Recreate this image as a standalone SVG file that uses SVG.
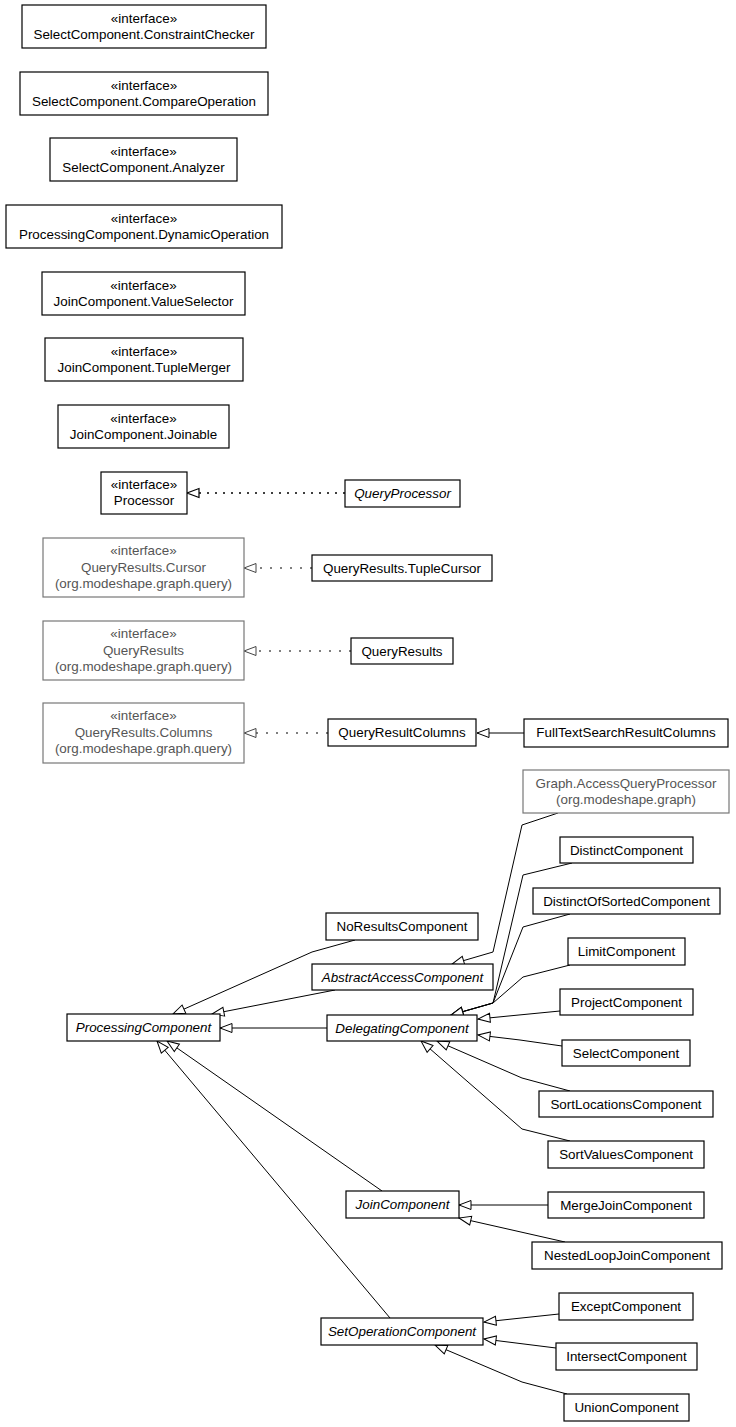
<svg xmlns="http://www.w3.org/2000/svg" width="736" height="1427" viewBox="0 0 736 1427">
<style>
rect{fill:#fff;stroke:#000;stroke-width:1.2}
text{font-family:"Liberation Sans",Arial,sans-serif;font-size:13.4px;text-anchor:middle;fill:#000}
.g rect{stroke:#777}
.g text{fill:#555}
.i{font-style:italic}
.c path{fill:none;stroke:#000;stroke-width:1}
.c .d{stroke-dasharray:2,6;stroke-width:1.6;marker-end:url(#ad)}
.c .dg{stroke:#555;stroke-dasharray:2,8;stroke-width:1.4;marker-end:url(#ag)}
.c .s{marker-end:url(#a)}
</style>
<defs>
<marker id="a" markerUnits="userSpaceOnUse" markerWidth="14" markerHeight="11" refX="12" refY="4.5" orient="auto" overflow="visible"><path d="M0,0 L12,4.5 L0,9 Z" fill="#fff" stroke="#000" stroke-width="1"/></marker>
<marker id="ad" markerUnits="userSpaceOnUse" markerWidth="14" markerHeight="11" refX="12" refY="4.5" orient="auto" overflow="visible"><path d="M0,0 L12,4.5 L0,9 Z" fill="#fff" stroke="#000" stroke-width="1.2"/></marker>
<marker id="ag" markerUnits="userSpaceOnUse" markerWidth="14" markerHeight="11" refX="12" refY="4.5" orient="auto" overflow="visible"><path d="M0,0 L12,4.5 L0,9 Z" fill="#fff" stroke="#444" stroke-width="1"/></marker>
</defs>
<g class="c" id="connectors">
<path class="d" d="M345,493 L187,493"/>
<path class="dg" d="M312,568 L244,568"/>
<path class="dg" d="M351,651 L244,651"/>
<path class="dg" d="M328,733 L244,733"/>
<path class="s" d="M524,733 L477,733"/>
<path class="s" d="M558,813 L522,825 L493,952 L452,964"/>
<path class="s" d="M572,863 L523,875 L493,1003 L451,1015"/>
<path class="s" d="M570,914 L523,927 L493,1003 L451,1015"/>
<path class="s" d="M570,965 L523,977 L493,1003 L451,1015"/>
<path class="s" d="M560,1011 L478,1019"/>
<path class="s" d="M562,1046 L520,1040 L478,1035"/>
<path class="s" d="M570,1091 L522,1078 L437,1041"/>
<path class="s" d="M570,1141 L522,1129 L421,1041"/>
<path class="s" d="M355,940 L312,952 L173,1014"/>
<path class="s" d="M335,990 L212,1014"/>
<path class="s" d="M327,1028 L220,1028"/>
<path class="s" d="M382,1191 L167,1041"/>
<path class="s" d="M390,1318 L157,1041"/>
<path class="s" d="M548,1205 L459,1205"/>
<path class="s" d="M565,1242 L459,1218"/>
<path class="s" d="M559,1314 L484,1322"/>
<path class="s" d="M556,1348 L484,1339"/>
<path class="s" d="M567,1394 L522,1382 L435,1345"/>
</g>
<g id="constraintChecker"><rect x="22" y="5" width="244" height="43"/><text x="144" y="23">«interface»</text><text x="144" y="39">SelectComponent.ConstraintChecker</text></g>
<g id="compareOperation"><rect x="20" y="72" width="248" height="43"/><text x="144" y="90">«interface»</text><text x="144" y="106">SelectComponent.CompareOperation</text></g>
<g id="analyzer"><rect x="50" y="138" width="187" height="43"/><text x="143.5" y="156">«interface»</text><text x="143.5" y="172">SelectComponent.Analyzer</text></g>
<g id="dynamicOperation"><rect x="6" y="205" width="276" height="43"/><text x="144" y="223">«interface»</text><text x="144" y="239">ProcessingComponent.DynamicOperation</text></g>
<g id="valueSelector"><rect x="42" y="272" width="203" height="43"/><text x="143.5" y="290">«interface»</text><text x="143.5" y="306">JoinComponent.ValueSelector</text></g>
<g id="tupleMerger"><rect x="45" y="338" width="198" height="43"/><text x="144" y="356">«interface»</text><text x="144" y="372">JoinComponent.TupleMerger</text></g>
<g id="joinable"><rect x="58" y="405" width="171" height="43"/><text x="143.5" y="423">«interface»</text><text x="143.5" y="439">JoinComponent.Joinable</text></g>
<g id="processor"><rect x="101" y="472" width="86" height="42"/><text x="144" y="489">«interface»</text><text x="144" y="505">Processor</text></g>
<g id="queryProcessor"><rect x="345" y="480" width="115" height="27"/><text class="i" x="402.5" y="498">QueryProcessor</text></g>
<g id="cursor" class="g"><rect x="43" y="538" width="201" height="59"/><text x="143.5" y="555">«interface»</text><text x="143.5" y="572">QueryResults.Cursor</text><text x="143.5" y="588">(org.modeshape.graph.query)</text></g>
<g id="tupleCursor"><rect x="312" y="555" width="180" height="26"/><text x="402" y="573">QueryResults.TupleCursor</text></g>
<g id="queryResultsIface" class="g"><rect x="43" y="621" width="201" height="59"/><text x="143.5" y="638">«interface»</text><text x="143.5" y="655">QueryResults</text><text x="143.5" y="671">(org.modeshape.graph.query)</text></g>
<g id="queryResults"><rect x="351" y="638" width="102" height="26"/><text x="402" y="656">QueryResults</text></g>
<g id="columnsIface" class="g"><rect x="43" y="703" width="201" height="60"/><text x="143.5" y="720">«interface»</text><text x="143.5" y="737">QueryResults.Columns</text><text x="143.5" y="753">(org.modeshape.graph.query)</text></g>
<g id="queryResultColumns"><rect x="328" y="719" width="148" height="27"/><text x="402" y="737">QueryResultColumns</text></g>
<g id="fullTextSearchResultColumns"><rect x="524" y="719" width="204" height="28"/><text x="626" y="737">FullTextSearchResultColumns</text></g>
<g id="accessQueryProcessor" class="g"><rect x="523" y="770" width="206" height="43"/><text x="626" y="788">Graph.AccessQueryProcessor</text><text x="626" y="804">(org.modeshape.graph)</text></g>
<g id="distinct"><rect x="560" y="837" width="133" height="26"/><text x="626.5" y="855">DistinctComponent</text></g>
<g id="distinctOfSorted"><rect x="533" y="888" width="187" height="26"/><text x="626.5" y="906">DistinctOfSortedComponent</text></g>
<g id="noResults"><rect x="326" y="913" width="152" height="27"/><text x="402" y="931">NoResultsComponent</text></g>
<g id="limit"><rect x="568" y="938" width="117" height="27"/><text x="626.5" y="956">LimitComponent</text></g>
<g id="abstractAccess"><rect x="312" y="964" width="181" height="26"/><text class="i" x="402.5" y="982">AbstractAccessComponent</text></g>
<g id="project"><rect x="560" y="989" width="133" height="26"/><text x="626.5" y="1007">ProjectComponent</text></g>
<g id="delegating"><rect x="327" y="1015" width="150" height="26"/><text class="i" x="402" y="1033">DelegatingComponent</text></g>
<g id="processingComponent"><rect x="67" y="1014" width="153" height="27"/><text class="i" x="143.5" y="1032">ProcessingComponent</text></g>
<g id="select"><rect x="562" y="1040" width="128" height="26"/><text x="626" y="1058">SelectComponent</text></g>
<g id="sortLocations"><rect x="539" y="1091" width="174" height="26"/><text x="626" y="1109">SortLocationsComponent</text></g>
<g id="sortValues"><rect x="548" y="1141" width="156" height="27"/><text x="626" y="1159">SortValuesComponent</text></g>
<g id="join"><rect x="346" y="1191" width="113" height="27"/><text class="i" x="402.5" y="1209">JoinComponent</text></g>
<g id="mergeJoin"><rect x="548" y="1192" width="156" height="26"/><text x="626" y="1210">MergeJoinComponent</text></g>
<g id="nestedLoopJoin"><rect x="532" y="1242" width="190" height="27"/><text x="627" y="1260">NestedLoopJoinComponent</text></g>
<g id="setOperation"><rect x="321" y="1318" width="162" height="27"/><text class="i" x="402" y="1336">SetOperationComponent</text></g>
<g id="except"><rect x="559" y="1293" width="134" height="27"/><text x="626" y="1311">ExceptComponent</text></g>
<g id="intersect"><rect x="556" y="1343" width="141" height="27"/><text x="626.5" y="1361">IntersectComponent</text></g>
<g id="union"><rect x="564" y="1394" width="125" height="27"/><text x="626.5" y="1412">UnionComponent</text></g>
</svg>
